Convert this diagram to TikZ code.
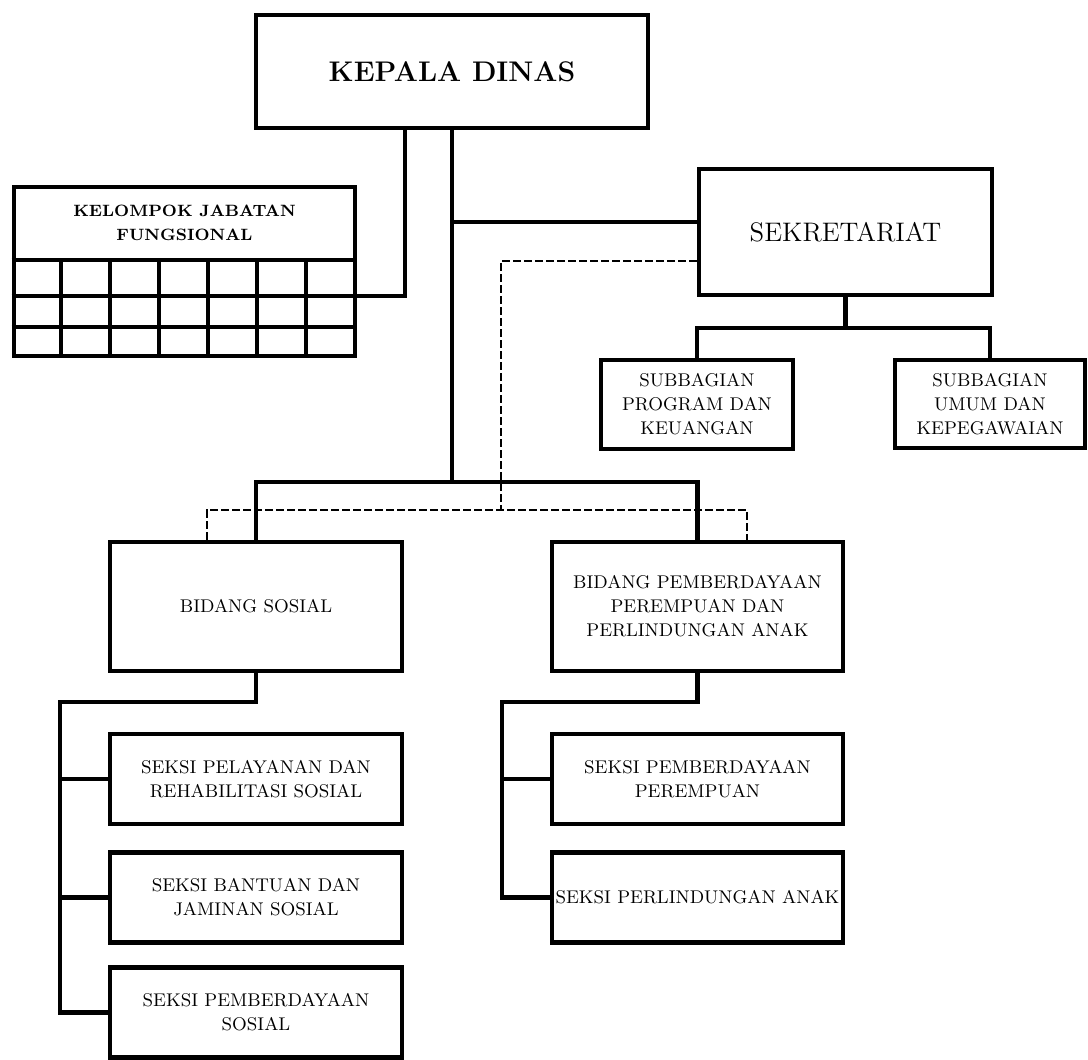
\documentclass[tikz,border=0pt]{standalone}
\usepackage{amsmath}
\usepackage{xcolor}
\usepackage{tikz}
\begin{document}
\begin{tikzpicture}[x=0.5pt,y=-0.5pt,
	kotak/.style={draw,rectangle,line width=2.3pt,inner sep=0pt,align=center,
		font=\fontsize{9.2}{12}\selectfont},
	seksi/.style={kotak,minimum width=146pt,minimum height=45pt},
	garis/.style={line width=2.3pt},
	putus/.style={line width=1.1pt,dash pattern=on 4pt off 1.5pt}]
			\useasboundingbox (0,0) rectangle (1088,1060);
			% Kotak atas
			\node[kotak,minimum width=196pt,minimum height=56.5pt,
				font=\bfseries\fontsize{14.2}{17}\selectfont] (kepala) at (452,71.5) {KEPALA DINAS};
			\node[kotak,minimum width=146.5pt,minimum height=63pt,
				font=\fontsize{13.4}{16}\selectfont] (sekretariat) at (845.5,232) {SEKRETARIAT};
			\node[kotak,minimum width=96pt,minimum height=44.5pt] (sub1) at (697,404.5) {SUBBAGIAN\\PROGRAM DAN\\KEUANGAN};
			\node[kotak,minimum width=95pt,minimum height=44pt] (sub2) at (990,404) {SUBBAGIAN\\UMUM DAN\\KEPEGAWAIAN};
			% Kelompok jabatan fungsional
			\node[kotak,minimum width=170.5pt,minimum height=84.5pt] (kjf) at (184.5,271.5) {};
			\node[align=center,font=\bfseries\fontsize{8.2}{12}\selectfont] (judul) at (184.5,222.5) {KELOMPOK JABATAN\\FUNGSIONAL};
			\foreach \y in {260,296,327}
			\draw[garis] (kjf.west |- 0,\y) -- (kjf.east |- 0,\y);
			\foreach \i in {1,...,6}
			\draw[garis] (12+49*\i,260) -- (kjf.south -| 12+49*\i,0);
			% Bidang
			\node[kotak,minimum width=146pt,minimum height=64.5pt] (bidsos) at (256,606.5) {BIDANG SOSIAL};
			\node[kotak,minimum width=145.5pt,minimum height=64.5pt] (bidpppa) at (697.5,606.5) {BIDANG PEMBERDAYAAN\\PEREMPUAN DAN\\PERLINDUNGAN ANAK};
			% Seksi
			\node[seksi] (sos1) at (256,779) {SEKSI PELAYANAN DAN\\REHABILITASI SOSIAL};
			\node[seksi] (sos2) at (256,897.5) {SEKSI BANTUAN DAN\\JAMINAN SOSIAL};
			\node[seksi] (sos3) at (256,1012.5) {SEKSI PEMBERDAYAAN\\SOSIAL};
			\node[seksi,minimum width=145.5pt] (pp1) at (697.5,779) {SEKSI PEMBERDAYAAN\\PEREMPUAN};
			\node[seksi,minimum width=145.5pt] (pp2) at (697.5,897.5) {SEKSI PERLINDUNGAN ANAK};
			% Garis
			\coordinate (kiri) at (405,296);
			\coordinate (bus) at (452,482);
			\coordinate (sb) at (845.5,328);
			\coordinate (sd) at (501,261);
			\coordinate (ls) at (60,702);
			\coordinate (rs) at (502,702);
			\draw[garis] (kepala.south -| kiri) -- (kiri) -- (kjf.east |- kiri);
			\draw[garis] (kepala.south) -- (bus);
			\draw[garis] (kepala.south |- 0,222) -- (sekretariat.west |- 0,222);
			\draw[garis] (bidsos.north) |- (bus) -| (bidpppa.north);
			\draw[garis] (sekretariat.south) -- (sb);
			\draw[garis] (sub1.north) |- (sb) -| (sub2.north);
			\draw[putus] (sekretariat.west |- sd) -- (sd) -- (501,510);
			\draw[putus] (bidsos.north -| 207,0) |- (501,510) -| (bidpppa.north -| 747,0);
			\draw[garis] (bidsos.south) |- (ls) |- (sos3.west);
			\foreach \n in {sos1,sos2}
			\draw[garis] (\n.west) -- (\n.west -| ls);
			\draw[garis] (bidpppa.south) |- (rs) |- (pp2.west);
			\draw[garis] (pp1.west) -- (pp1.west -| rs);
		\end{tikzpicture}
\end{document}
